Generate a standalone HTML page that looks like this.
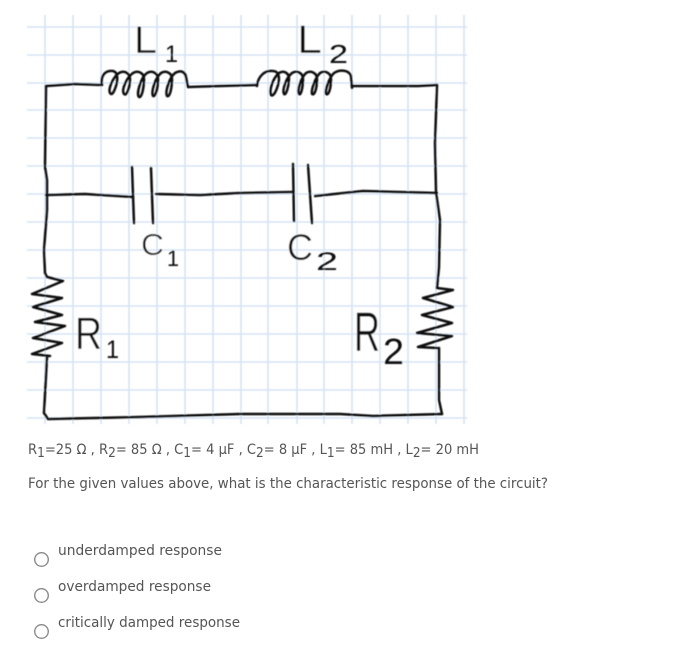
<!DOCTYPE html>
<html lang="en">
<head>
<meta charset="utf-8">
<title>Circuit question</title>
<style>
html,body{margin:0;padding:0;background:#fff;width:700px;height:665px;overflow:hidden}
svg{display:block}
.ink{font-family:"Liberation Sans",sans-serif;fill:#0a0a0a;stroke:#fff;stroke-width:.45px}
.sub{font-family:"Liberation Sans",sans-serif;fill:#0a0a0a}
.q{font-family:"DejaVu Sans",sans-serif;fill:#555;font-size:14px}
</style>
</head>
<body>
<svg width="700" height="665" viewBox="0 0 700 665" xmlns="http://www.w3.org/2000/svg">
<defs><filter id="b" x="-5%" y="-5%" width="110%" height="110%"><feGaussianBlur stdDeviation="0.4"/></filter></defs>
<g filter="url(#b)">
<g stroke="#d6e3f3" stroke-width="1.6" fill="none">
<path d="M45 15V424M73 15V424M101 15V424M129 15V424M157 15V424M185 15V424M213 15V424M241 15V424M268 15V424M297 15V424M324 15V424M352 15V424M380 15V424M408 15V424M436 15V424M464 15V424"/>
<path d="M27 27H467M27 55H467M27 83H467M27 110H467M27 138H467M27 166H467M27 194H467M27 222H467M27 250H467M27 278H467M27 306H467M27 334H467M27 362H467M27 390H467M27 418H467"/>
</g>
<g stroke="#0c0c0c" stroke-width="2.5" fill="none" stroke-linecap="round" stroke-linejoin="round">
<path d="M46 86L75 84L102 85"/>
<path d="M102 85C100 74 107 70 113 71C118 72 118 80 116 86C114 92 112 96 110 93C108 89 113 77 119 73C124 70 130 73 130 79C130 86 127 97 124 94C121 90 127 77 133 73C138 70 144 73 144 79C144 87 142 98 139 97C136 94 141 77 147 73C152 70 158 73 158 79C158 87 156 97 153 96C151 92 155 78 161 73C166 70 172 73 172 79C172 87 170 98 167 96C165 92 169 78 175 73C180 70 185 71 186 77L188 87"/>
<path d="M188 87L220 86L257 85"/>
<path d="M257 86C258 76 265 70 273 71C279 71 280 78 278 85C276 92 273 97 271 95C269 90 273 78 279 73C284 70 289 73 289 79C289 86 286 96 284 94C282 90 286 78 292 73C297 70 303 73 303 79C303 87 301 96 299 94C297 90 301 78 306 73C311 70 317 73 317 79C317 87 315 96 312 94C311 90 315 78 320 73C325 70 331 73 331 79C331 87 329 96 326 94C325 90 329 78 334 73C340 69 349 70 351 76L352 88"/>
<path d="M352 86L380 86L418 86L437 85"/>
<path d="M437 85L435 143L436 192L440 220L439 267L437 288"/>
<path d="M437 288L453 290L423 298L453 307L422 315L452 323L417 333L452 336L418 347L437 348"/>
<path d="M439 348V400L442 414"/>
<path d="M442 414L373 416L340 414L240 414L140 417L48 419L44 413"/>
<path d="M46 86L45 167L47 180L47 210L44 250L45 273L47 277"/>
<path d="M47 277L63 281L32 294L62 298L33 307L62 315L35 322L65 326L33 338L62 343L32 354L50 356"/>
<path d="M47 357L44 413"/>
<path d="M46 195L85 194L133 197"/>
<path d="M132 167L134 223"/>
<path d="M151 168L153 223"/>
<path d="M156 194L200 195L240 193L293 192"/>
<path d="M293 164L294 221"/>
<path d="M308 165L312 223"/>
<path d="M315 196L363 191L437 193"/>
</g>
<g>
<text class="ink" x="134" y="53" font-size="39" textLength="23" lengthAdjust="spacingAndGlyphs">L</text>
<text class="sub" x="165" y="62" font-size="24" textLength="13" lengthAdjust="spacingAndGlyphs">1</text>
<text class="ink" x="297" y="53" font-size="40" textLength="25" lengthAdjust="spacingAndGlyphs">L</text>
<text class="sub" x="329" y="63" font-size="26" textLength="19" lengthAdjust="spacingAndGlyphs">2</text>
<text class="ink" x="141" y="255" font-size="31" textLength="23" lengthAdjust="spacingAndGlyphs">C</text>
<text class="sub" x="167" y="266" font-size="22" textLength="12" lengthAdjust="spacingAndGlyphs">1</text>
<text class="ink" x="287" y="260" font-size="37" textLength="26" lengthAdjust="spacingAndGlyphs">C</text>
<text class="sub" x="316" y="270" font-size="25" textLength="22" lengthAdjust="spacingAndGlyphs">2</text>
<text class="ink" x="75" y="349" font-size="45" textLength="27" lengthAdjust="spacingAndGlyphs">R</text>
<text class="sub" x="106" y="358" font-size="25" textLength="13" lengthAdjust="spacingAndGlyphs">1</text>
<text class="ink" x="354" y="351" font-size="56" textLength="26" lengthAdjust="spacingAndGlyphs">R</text>
<text class="sub" x="383" y="364" font-size="36" textLength="21" lengthAdjust="spacingAndGlyphs">2</text>
</g>
</g>
<text class="q" x="28" y="454" textLength="451" lengthAdjust="spacingAndGlyphs">R<tspan dy="3" font-size="13">1</tspan><tspan dy="-3">=25 Ω ,  R</tspan><tspan dy="3" font-size="13">2</tspan><tspan dy="-3">= 85 Ω , C</tspan><tspan dy="3" font-size="13">1</tspan><tspan dy="-3">= 4 µF ,  C</tspan><tspan dy="3" font-size="13">2</tspan><tspan dy="-3">= 8 µF ,  L</tspan><tspan dy="3" font-size="13">1</tspan><tspan dy="-3">= 85 mH ,  L</tspan><tspan dy="3" font-size="13">2</tspan><tspan dy="-3">= 20 mH</tspan></text>
<text class="q" x="28" y="488" textLength="520" lengthAdjust="spacingAndGlyphs">For the given values above, what is the characteristic response of the circuit?</text>
<text class="q" x="58" y="555" textLength="164" lengthAdjust="spacingAndGlyphs">underdamped response</text>
<text class="q" x="58" y="591" textLength="153" lengthAdjust="spacingAndGlyphs">overdamped response</text>
<text class="q" x="58" y="627" textLength="182" lengthAdjust="spacingAndGlyphs">critically damped response</text>
<g fill="#fff" stroke="#8a8a8a" stroke-width="1.4">
<circle cx="41.5" cy="559.5" r="6.8"/>
<circle cx="41.5" cy="595.5" r="6.8"/>
<circle cx="41.5" cy="631.5" r="6.8"/>
</g>
</svg>
</body>
</html>
